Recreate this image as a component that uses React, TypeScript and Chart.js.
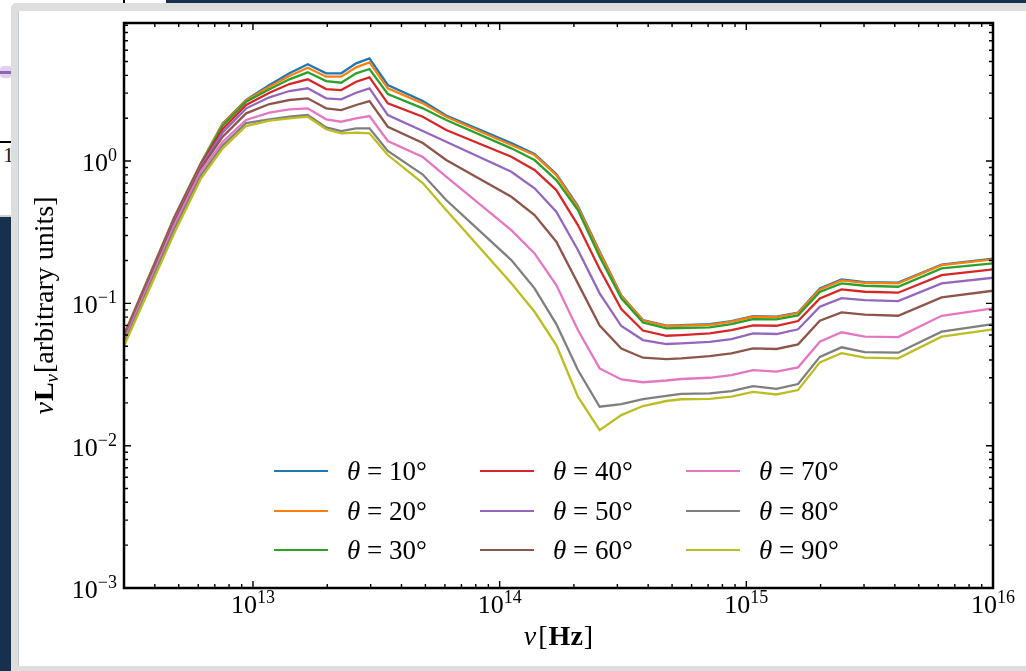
import { useEffect, useRef } from 'react';
import { Chart, registerables } from 'chart.js';

Chart.register(...registerables);

// ---------- data ----------
const FREQ = [
  3.0e12, 4.8e12, 6.16e12, 7.54e12, 9.38e12, 1.166e13, 1.405e13, 1.667e13, 1.98e13, 2.278e13,
  2.62e13, 2.967e13, 3.52e13, 4.88e13, 6.07e13, 1.115e14, 1.385e14, 1.697e14, 2.076e14, 2.543e14,
  3.113e14, 3.81e14, 4.74e14, 5.45e14, 7.1e14, 8.7e14, 1.065e15, 1.325e15, 1.621e15, 1.986e15,
  2.432e15, 3.022e15, 4.125e15, 6.19e15, 1.0e16,
];

const THETA_10 = [0.0599, 0.404, 0.973, 1.84, 2.684, 3.421, 4.134, 4.782, 4.134, 4.134, 4.86, 5.268, 3.421, 2.64, 2.088, 1.338, 1.12, 0.81, 0.483, 0.2312, 0.1134, 0.0763, 0.0698, 0.0704, 0.0715, 0.0751, 0.0814, 0.0808, 0.0862, 0.1271, 0.147, 0.1411, 0.14, 0.1874, 0.2065];
const THETA_20 = [0.0594, 0.401, 0.968, 1.82, 2.662, 3.328, 3.957, 4.524, 3.912, 3.912, 4.554, 4.939, 3.243, 2.544, 2.048, 1.296, 1.102, 0.797, 0.471, 0.2275, 0.1125, 0.0757, 0.0693, 0.0698, 0.0707, 0.0743, 0.0805, 0.0801, 0.0855, 0.1254, 0.1451, 0.1395, 0.1382, 0.1858, 0.2038];
const THETA_30 = [0.0589, 0.398, 0.96, 1.776, 2.61, 3.19, 3.751, 4.201, 3.648, 3.549, 4.134, 4.431, 2.957, 2.346, 1.942, 1.228, 1.016, 0.735, 0.452, 0.2126, 0.1084, 0.0733, 0.0667, 0.0671, 0.0678, 0.0715, 0.0776, 0.0772, 0.0823, 0.1201, 0.1382, 0.133, 0.1308, 0.1762, 0.191];
const THETA_40 = [0.058, 0.391, 0.945, 1.678, 2.475, 3.02, 3.476, 3.751, 3.206, 3.154, 3.608, 3.874, 2.544, 2.048, 1.651, 1.072, 0.865, 0.625, 0.355, 0.1742, 0.0912, 0.0644, 0.0592, 0.0599, 0.0615, 0.0649, 0.0701, 0.0696, 0.0751, 0.1084, 0.1254, 0.1207, 0.1188, 0.158, 0.1733];
const THETA_50 = [0.057, 0.382, 0.922, 1.586, 2.346, 2.803, 3.104, 3.243, 2.757, 2.714, 3.02, 3.243, 2.105, 1.625, 1.366, 0.841, 0.643, 0.44, 0.2369, 0.1176, 0.0693, 0.0552, 0.0518, 0.0524, 0.0537, 0.0561, 0.0615, 0.0609, 0.0657, 0.0946, 0.1089, 0.1055, 0.1038, 0.1382, 0.1513];
const THETA_60 = [0.0557, 0.37, 0.893, 1.482, 2.164, 2.515, 2.684, 2.757, 2.346, 2.282, 2.475, 2.64, 1.742, 1.338, 1.016, 0.561, 0.417, 0.271, 0.1382, 0.0698, 0.0481, 0.0415, 0.0406, 0.0411, 0.0426, 0.0445, 0.0483, 0.0478, 0.0515, 0.0755, 0.0865, 0.0832, 0.0818, 0.1102, 0.1226];
const THETA_70 = [0.0543, 0.355, 0.851, 1.366, 1.942, 2.185, 2.308, 2.346, 1.963, 1.889, 1.996, 2.071, 1.382, 1.067, 0.776, 0.327, 0.2245, 0.1345, 0.0649, 0.0349, 0.0292, 0.0279, 0.0287, 0.0294, 0.03, 0.0313, 0.034, 0.0331, 0.0355, 0.0537, 0.0626, 0.0583, 0.058, 0.0818, 0.0922];
const THETA_80 = [0.0522, 0.333, 0.797, 1.285, 1.849, 1.963, 2.048, 2.105, 1.725, 1.625, 1.697, 1.697, 1.176, 0.804, 0.532, 0.2015, 0.1275, 0.0715, 0.034, 0.01877, 0.0196, 0.0212, 0.0224, 0.0231, 0.0233, 0.0242, 0.0262, 0.0251, 0.0271, 0.0421, 0.0491, 0.0455, 0.045, 0.0632, 0.0715];
const THETA_90 = [0.0501, 0.312, 0.756, 1.228, 1.762, 1.926, 1.996, 2.048, 1.671, 1.566, 1.581, 1.566, 1.102, 0.7, 0.452, 0.1382, 0.0873, 0.0509, 0.0221, 0.01287, 0.0164, 0.019, 0.0206, 0.0212, 0.0213, 0.0221, 0.0239, 0.0229, 0.0246, 0.0385, 0.0447, 0.0415, 0.0411, 0.0583, 0.0657];

const SERIES = [THETA_10, THETA_20, THETA_30, THETA_40, THETA_50, THETA_60, THETA_70, THETA_80, THETA_90];
const ANGLES = [10, 20, 30, 40, 50, 60, 70, 80, 90];
const COLORS = ['#1f77b4', '#ff7f0e', '#2ca02c', '#d62728', '#9467bd', '#8c564b', '#e377c2', '#7f7f7f', '#bcbd22'];

const X_MIN = 3e12;
const X_MAX = 1e16;
const Y_MIN = 1e-3;
const Y_MAX = 9.33;
const X_TICKS = [1e13, 1e14, 1e15, 1e16];
const Y_TICKS = [1e-3, 1e-2, 1e-1, 1];

const FONT = "'Liberation Serif', 'DejaVu Serif', serif";

function minorTicks(min: number, max: number): number[] {
  const out: number[] = [];
  for (let e = Math.floor(Math.log10(min)); e <= Math.ceil(Math.log10(max)); e++) {
    for (let m = 2; m <= 9; m++) {
      const v = m * Math.pow(10, e);
      if (v >= min * 0.999 && v <= max) out.push(v);
    }
  }
  return out;
}

function expText(v: number): string {
  const e = Math.round(Math.log10(v));
  return e < 0 ? '\u2212' + Math.abs(e) : String(e);
}

type Run = { t: string; font: string; dy?: number; gap?: number };

const mplPlugin = {
  id: 'mplAxes',
  afterDraw(chart: any) {
    const { ctx, chartArea: a } = chart;
    const xs = chart.scales.x;
    const ys = chart.scales.y;
    ctx.save();
    ctx.strokeStyle = '#000';
    ctx.fillStyle = '#000';

    // inward ticks on all four sides
    ctx.lineWidth = 1.4;
    ctx.beginPath();
    const xt = (v: number, len: number) => {
      const p = xs.getPixelForValue(v);
      ctx.moveTo(p, a.bottom); ctx.lineTo(p, a.bottom - len);
      ctx.moveTo(p, a.top); ctx.lineTo(p, a.top + len);
    };
    const yt = (v: number, len: number) => {
      const p = ys.getPixelForValue(v);
      ctx.moveTo(a.left, p); ctx.lineTo(a.left + len, p);
      ctx.moveTo(a.right, p); ctx.lineTo(a.right - len, p);
    };
    X_TICKS.forEach((v) => xt(v, 7));
    minorTicks(X_MIN, X_MAX).forEach((v) => xt(v, 4));
    Y_TICKS.forEach((v) => yt(v, 7));
    minorTicks(Y_MIN, Y_MAX).forEach((v) => yt(v, 4));
    ctx.stroke();

    // frame
    ctx.lineWidth = 2.5;
    ctx.strokeRect(a.left, a.top, a.right - a.left, a.bottom - a.top);

    // tick labels 10^n
    const big = `26px ${FONT}`;
    const small = `18px ${FONT}`;
    ctx.textBaseline = 'alphabetic';
    ctx.textAlign = 'left';
    Y_TICKS.forEach((v) => {
      const p = ys.getPixelForValue(v);
      const ex = expText(v);
      ctx.font = small;
      const ew = ctx.measureText(ex).width;
      ctx.font = big;
      const bw = ctx.measureText('10').width;
      const right = a.left - 7;
      ctx.fillText('10', right - ew - bw, p + 10);
      ctx.font = small;
      ctx.fillText(ex, right - ew, p);
    });
    X_TICKS.forEach((v) => {
      const p = xs.getPixelForValue(v);
      const ex = expText(v);
      ctx.font = small;
      const ew = ctx.measureText(ex).width;
      ctx.font = big;
      const bw = ctx.measureText('10').width;
      const x0 = p - (bw + ew) / 2;
      ctx.fillText('10', x0, a.bottom + 25);
      ctx.font = small;
      ctx.fillText(ex, x0 + bw, a.bottom + 15);
    });

    // axis titles
    const width = (runs: Run[]) =>
      runs.reduce((s, r) => {
        ctx.font = r.font;
        return s + ctx.measureText(r.t).width + (r.gap || 0);
      }, 0);
    const draw = (runs: Run[], x: number, y: number) => {
      let cx = x;
      runs.forEach((r) => {
        ctx.font = r.font;
        ctx.fillText(r.t, cx, y + (r.dy || 0));
        cx += ctx.measureText(r.t).width + (r.gap || 0);
      });
    };
    const xTitle: Run[] = [
      { t: '\u03bd', font: `italic 28px ${FONT}`, gap: 2 },
      { t: '[', font: `28px ${FONT}`, gap: 1 },
      { t: 'Hz', font: `bold 28px ${FONT}`, gap: 1 },
      { t: ']', font: `28px ${FONT}` },
    ];
    const xw = width(xTitle);
    draw(xTitle, (a.left + a.right) / 2 - xw / 2, 645);

    const yTitle: Run[] = [
      { t: '\u03bd', font: `italic 28px ${FONT}`, gap: 1 },
      { t: 'L', font: `bold 28px ${FONT}` },
      { t: '\u03bd', font: `italic 19px ${FONT}`, dy: 5, gap: 1 },
      { t: '[arbitrary units]', font: `28px ${FONT}` },
    ];
    const yw = width(yTitle);
    ctx.translate(53, (a.top + a.bottom) / 2);
    ctx.rotate(-Math.PI / 2);
    draw(yTitle, -yw / 2, 0);

    ctx.restore();
  },
};

const LEG_LEFT = 274;
const LEG_COL = 206;
const LEG_ROWS = [471, 511, 550];

export default function App() {
  const ref = useRef<HTMLCanvasElement | null>(null);

  useEffect(() => {
    if (!ref.current) return;
    const chart = new Chart(ref.current, {
      type: 'line',
      data: {
        datasets: SERIES.map((s, i) => ({
          label: `\u03b8 = ${ANGLES[i]}\u00b0`,
          data: FREQ.map((x, j) => ({ x, y: s[j] })),
          borderColor: COLORS[i],
          backgroundColor: COLORS[i],
          borderWidth: 2.3,
          pointRadius: 0,
          tension: 0,
          fill: false,
          order: SERIES.length - 1 - i,
        })),
      },
      options: {
        animation: false,
        responsive: false,
        maintainAspectRatio: false,
        devicePixelRatio: 1,
        events: [],
        layout: { padding: { left: 0, top: 23, right: 33, bottom: 0 } },
        plugins: { legend: { display: false }, tooltip: { enabled: false } },
        scales: {
          x: {
            type: 'logarithmic',
            min: X_MIN,
            max: X_MAX,
            grid: { display: false, drawTicks: false },
            border: { display: false },
            ticks: { display: false },
            afterFit: (s: any) => { s.height = 83; },
          },
          y: {
            type: 'logarithmic',
            min: Y_MIN,
            max: Y_MAX,
            grid: { display: false, drawTicks: false },
            border: { display: false },
            ticks: { display: false },
            afterFit: (s: any) => { s.width = 124; },
          },
        },
      } as any,
      plugins: [mplPlugin],
    });
    return () => chart.destroy();
  }, []);

  const navy = '#17304d';
  return (
    <div style={{ position: 'fixed', left: 0, top: 0, width: 1026, height: 671, overflow: 'hidden', background: '#fff' }}>
      {/* background remnants of the page behind the panel */}
      <div style={{ position: 'absolute', left: 0, top: 217, width: 11, height: 454, background: navy }} />
      <div style={{ position: 'absolute', left: 166, top: 0, width: 860, height: 3, background: navy }} />
      <div style={{ position: 'absolute', left: 123, top: 0, width: 2, height: 4, background: '#000' }} />
      <div style={{ position: 'absolute', left: 0, top: 66, width: 12, height: 12, borderRadius: 4, background: 'rgba(148,103,189,0.3)' }} />
      <div style={{ position: 'absolute', left: 0, top: 71, width: 12, height: 2.5, background: '#8e63b8' }} />
      <div style={{ position: 'absolute', left: 0, top: 141, width: 12, height: 2, background: '#000' }} />
      <div style={{ position: 'absolute', left: 3, top: 142, font: `22px ${FONT}`, color: '#222' }}>1</div>
      <div style={{ position: 'absolute', left: 0, top: 215, width: 12, height: 2, background: '#cfcfcf' }} />
      {/* panel */}
      <div
        style={{
          position: 'absolute', left: 11, top: 3, width: 1040, height: 671,
          border: '8px solid #dedede', borderRadius: 5, background: '#fff', boxSizing: 'border-box',
        }}
      />
      <div style={{ position: 'absolute', left: 18, top: 11, width: 1, height: 655, background: '#c3cbd3' }} />
      <canvas ref={ref} width={1026} height={671} style={{ position: 'absolute', left: 0, top: 0, width: 1026, height: 671 }} />
      {/* legend */}
      {ANGLES.map((ang, i) => {
        const col = Math.floor(i / 3);
        const row = i % 3;
        return (
          <div
            key={ang}
            style={{
              position: 'absolute', left: LEG_LEFT + col * LEG_COL, top: LEG_ROWS[row] - 16, height: 32,
              display: 'flex', alignItems: 'center', whiteSpace: 'nowrap',
            }}
          >
            <span style={{ display: 'inline-block', width: 54, height: 2.5, background: COLORS[i] }} />
            <span style={{ marginLeft: 19, font: `27px ${FONT}`, color: '#000', lineHeight: '32px' }}>
              <i>{'\u03b8'}</i>
              {' = '}
              {ang}
              {'\u00b0'}
            </span>
          </div>
        );
      })}
    </div>
  );
}
